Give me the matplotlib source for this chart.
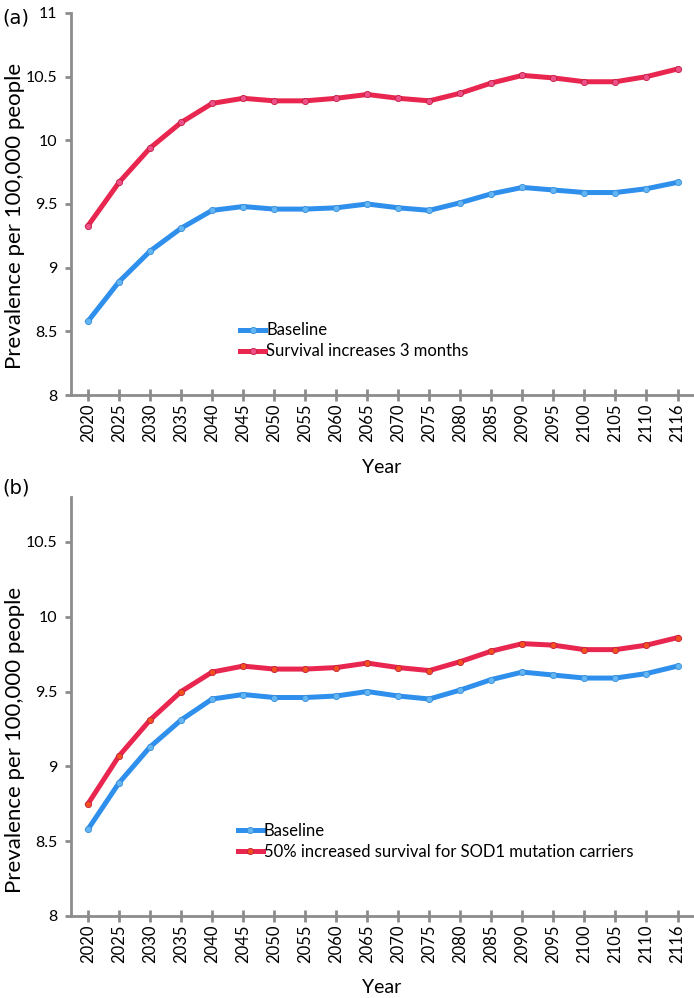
import matplotlib
matplotlib.use("Agg")
import matplotlib.pyplot as plt

plt.rcParams['font.family'] = ['Lato', 'DejaVu Sans']

years = ['2020', '2025', '2030', '2035', '2040', '2045', '2050', '2055', '2060', '2065',
         '2070', '2075', '2080', '2085', '2090', '2095', '2100', '2105', '2110', '2116']

baseline = [8.58, 8.89, 9.13, 9.31, 9.45, 9.48, 9.46, 9.46, 9.47, 9.50,
            9.47, 9.45, 9.51, 9.58, 9.63, 9.61, 9.59, 9.59, 9.62, 9.67]
survival_3m = [9.33, 9.67, 9.94, 10.14, 10.29, 10.33, 10.31, 10.31, 10.33, 10.36,
               10.33, 10.31, 10.37, 10.45, 10.51, 10.49, 10.46, 10.46, 10.50, 10.56]
sod1 = [8.75, 9.07, 9.31, 9.50, 9.63, 9.67, 9.65, 9.65, 9.66, 9.69,
        9.66, 9.64, 9.70, 9.77, 9.82, 9.81, 9.78, 9.78, 9.81, 9.86]

blue = '#2f8fec'
red = '#e8264f'
grey = '#8c8c8c'

fig = plt.figure(figsize=(6.94, 9.98), dpi=100)
ax_a = fig.add_axes([0.1023, 0.6042, 0.8963, 0.3828])
ax_b = fig.add_axes([0.1023, 0.0822, 0.8963, 0.4198])


def draw_panel(ax, red_vals, red_label, red_marker, ymax, leg_pos, ylab_y):
    x = range(len(years))
    ax.plot(x, baseline, color=blue, lw=3.6, marker='o', ms=4.5,
            mfc='#62b6f5', mec='#3a8ed6', mew=0.6, label='Baseline', zorder=3)
    ax.plot(x, red_vals, color=red, lw=3.6, marker='o', ms=4.5,
            mfc=red_marker, mec='#c0203f', mew=0.6, label=red_label, zorder=3)
    ax.set_xlim(-0.55, 19.5)
    ax.set_ylim(8, ymax)
    yt = [v for v in [8, 8.5, 9, 9.5, 10, 10.5, 11] if v <= ymax]
    ax.set_yticks(yt)
    ax.set_yticklabels(['{:g}'.format(v) for v in yt])
    ax.set_xticks(list(x))
    ax.set_xticklabels(years, rotation=90)
    for s in ['top', 'right']:
        ax.spines[s].set_visible(False)
    for s in ['left', 'bottom']:
        ax.spines[s].set_color(grey)
        ax.spines[s].set_linewidth(2)
    ax.tick_params(axis='y', length=4, width=2, color=grey, labelsize=11.5, pad=6)
    ax.tick_params(axis='x', direction='inout', length=8, width=2, color=grey,
                   labelsize=12, pad=2)
    ax.set_ylabel('Prevalence per 100,000 people', fontsize=16, va='center')
    ax.yaxis.set_label_coords(-0.09, ylab_y)
    ax.set_xlabel('Year', fontsize=14, labelpad=12)
    ax.legend(loc='upper left', bbox_to_anchor=leg_pos, frameon=False,
              fontsize=12, handlelength=1.5, handletextpad=0.05,
              labelspacing=0.3, borderaxespad=0, borderpad=0)


draw_panel(ax_a, survival_3m, 'Survival increases 3 months', '#f0508a', 11,
           (0.272, 0.19), 0.47)
draw_panel(ax_b, sod1, '50% increased survival for SOD1 mutation carriers', '#f5501e', 10.8,
           (0.268, 0.222), 0.42)

fig.text(0.004, 0.991, '(a)', fontsize=14, family='DejaVu Sans', va='top')
fig.text(0.004, 0.521, '(b)', fontsize=14, family='DejaVu Sans', va='top')

fig.savefig('out.png', dpi=100)
